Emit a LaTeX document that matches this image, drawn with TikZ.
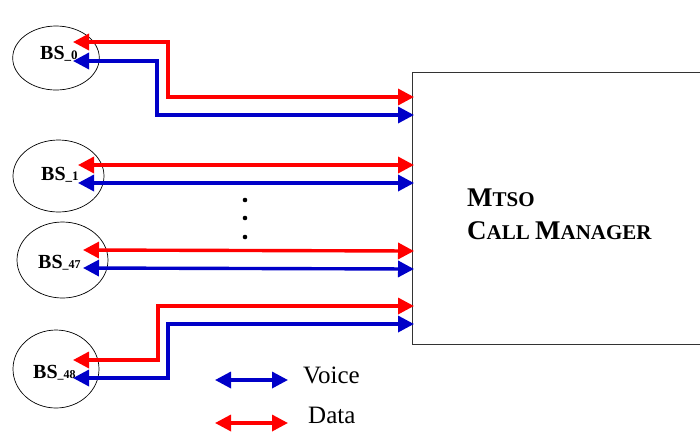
\documentclass[tikz,border=0pt]{standalone}
\usepackage{fontspec}
\setmainfont{Liberation Serif}
\usetikzlibrary{arrows.meta,shapes.geometric}
\definecolor{vred}{RGB}{255,0,0}
\definecolor{vblue}{RGB}{0,0,200}
\begin{document}
\begin{tikzpicture}[x=1pt,y=-1pt,
  bs/.style={draw,ellipse,line width=0.7pt,inner sep=0pt},
  bstext/.style={anchor=base west,inner sep=0pt,font=\bfseries},
  link/.style={line width=3.4pt,line join=miter,
    {Triangle[length=16pt,width=16pt]}-{Triangle[length=16pt,width=16pt]}},
  datal/.style={link,color=vred},
  voicel/.style={link,color=vblue},
  boxline/.style={line width=0.9pt,draw=black!80},
  dot/.style={circle,fill=black,inner sep=0pt,minimum size=4.6pt},
  legtext/.style={anchor=base west,inner sep=0pt,font=\fontsize{25}{28}\selectfont}
]
\useasboundingbox (0,0) rectangle (700,432);

% base stations
\node[bs,minimum width=86.6pt,minimum height=64pt] (bs0) at (56,58) {};
\node[bs,minimum width=91pt,minimum height=72pt] (bs1) at (58.5,176) {};
\node[bs,minimum width=91pt,minimum height=76pt] (bs47) at (62.5,260) {};
\node[bs,minimum width=86pt,minimum height=78pt] (bs48) at (56,369) {};

\node[bstext] (t0) at (40,59) {{\fontsize{20}{22}\selectfont BS}{\fontsize{13}{15}\selectfont\_0}};
\node[bstext] (t1) at (41,180) {{\fontsize{20}{22}\selectfont BS}{\fontsize{13}{15}\selectfont\_1}};
\node[bstext] (t47) at (38,268) {{\fontsize{20}{22}\selectfont BS}{\fontsize{12}{14}\selectfont\_47}};
\node[bstext] (t48) at (33,378) {{\fontsize{20}{22}\selectfont BS}{\fontsize{12}{14}\selectfont\_48}};

% MTSO box (right side runs off the picture)
\node[minimum width=288pt,minimum height=272pt,inner sep=0pt,anchor=north west] (mtso) at (412,72) {};
\draw[boxline] (mtso.north east) -- (mtso.north west) -- (mtso.south west) -- (mtso.south east);
\node[anchor=base west,inner sep=0pt,font=\bfseries] (m1) at (467,206)
  {{\fontsize{27}{30}\selectfont M}{\fontsize{21}{24}\selectfont TSO}};
\node[anchor=base west,inner sep=0pt,font=\bfseries] (m2) at (467,239)
  {{\fontsize{27}{30}\selectfont C}{\fontsize{21}{24}\selectfont ALL }{\fontsize{27}{30}\selectfont M}{\fontsize{21}{24}\selectfont ANAGER}};

% end points
\coordinate (a0r) at (73,42);  \coordinate (a0b) at (73,61);
\coordinate (a1r) at (78,165); \coordinate (a1b) at (78,183);
\coordinate (a47r) at (83,250); \coordinate (a47b) at (83,268);
\coordinate (a48r) at (73,360); \coordinate (a48b) at (73,378);
\coordinate (m0r) at (414,97);  \coordinate (m0b) at (414,115);
\coordinate (m1r) at (414,165); \coordinate (m1b) at (414,183);
\coordinate (m47r) at (414,251); \coordinate (m47b) at (414,269);
\coordinate (m48r) at (414,306); \coordinate (m48b) at (414,324);

% connectors
\draw[datal] (a0r) -- (168,42) -- (168,97) -- (m0r);
\draw[voicel] (a0b) -- (157,61) -- (157,115) -- (m0b);
\draw[datal] (a1r) -- (m1r);
\draw[voicel] (a1b) -- (m1b);
\draw[datal] (a47r) -- (m47r);
\draw[voicel] (a47b) -- (m47b);
\draw[datal] (a48r) -- (158,360) -- (158,306) -- (m48r);
\draw[voicel] (a48b) -- (168,378) -- (168,324) -- (m48b);

% dots
\node[dot] (d1) at (245,200) {};
\node[dot] (d2) at (245,218) {};
\node[dot] (d3) at (245,237) {};

% legend
\coordinate (lv1) at (215,380); \coordinate (lv2) at (288,380);
\coordinate (ld1) at (215,423); \coordinate (ld2) at (288,423);
\draw[voicel] (lv1) -- (lv2);
\draw[datal] (ld1) -- (ld2);
\node[legtext] (lvt) at (303,383) {Voice};
\node[legtext] (ldt) at (308,423) {Data};
\end{tikzpicture}
\end{document}
